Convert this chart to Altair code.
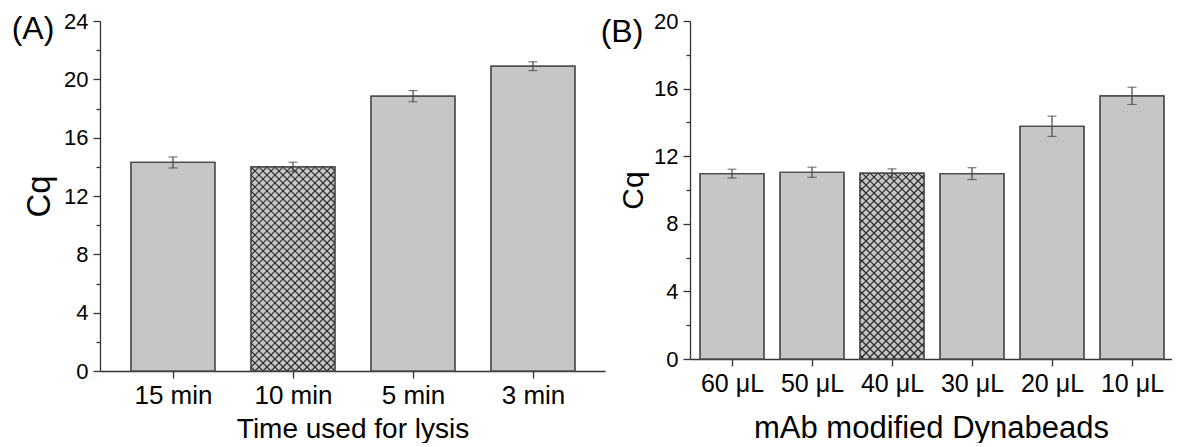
import altair as alt
import pandas as pd

# ---------------- data ----------------
lysis_labels = ["15 min", "10 min", "5 min", "3 min"]
lysis_cq = [14.3, 14.0, 18.85, 20.9]
lysis_err = [0.38, 0.32, 0.38, 0.30]
lysis_hatched = [False, True, False, False]

beads_labels = ["60 \u03bcL", "50 \u03bcL", "40 \u03bcL", "30 \u03bcL", "20 \u03bcL", "10 \u03bcL"]
beads_cq = [10.97, 11.05, 11.0, 10.97, 13.77, 15.57]
beads_err = [0.26, 0.30, 0.25, 0.35, 0.60, 0.51]
beads_hatched = [False, False, True, False, False, False]

FONT = "Liberation Sans"
BAR_FILL = "#c6c6c6"
EDGE = "#4a4a4a"
AXC = "#333333"


def hatch_rows(x0, x1, top, kx, ky, period=8.0):
    W = (x1 - x0) * kx
    H = top * ky
    segs = []
    c = -W
    while c < H:
        ua, ub = max(0.0, -c), min(W, H - c)
        if ub > ua:
            segs.append((ua, ua + c, ub, ub + c))
        c += period
    c = period / 2
    while c < W + H:
        ua, ub = max(0.0, c - H), min(W, c)
        if ub > ua:
            segs.append((ua, c - ua, ub, c - ub))
        c += period
    return [{"x": x0 + a / kx, "y": b / ky, "x2": x0 + d / kx, "y2": e / ky}
            for a, b, d, e in segs]


def panel(labels, vals, errs, hatched, xdom, ymax, width, height, barw,
          tag, tag_xy, xtitle, lab_fs, xt_fs, y_lab_fs, y_t_fs,
          y_ext, y_tp, x_tp, x_lp, anchor=None):
    n = len(labels)
    idx = list(range(1, n + 1))
    kx = width / (xdom[1] - xdom[0])
    ky = height / ymax

    bars = pd.DataFrame({
        "x": [i - barw / 2 for i in idx],
        "x2": [i + barw / 2 for i in idx],
        "y": [0.0] * n,
        "y2": vals,
    })
    err = pd.DataFrame({
        "x": idx,
        "y": [v - e for v, e in zip(vals, errs)],
        "y2": [v + e for v, e in zip(vals, errs)],
    })
    caps = pd.DataFrame({
        "x": idx + idx,
        "y": list(err["y"]) + list(err["y2"]),
    })
    hrows = []
    for i, v, h in zip(idx, vals, hatched):
        if h:
            hrows += hatch_rows(i - barw / 2, i + barw / 2, v, kx, ky)
    hatch = pd.DataFrame(hrows)

    arr = "[" + ",".join("'" + l + "'" for l in labels) + "]"
    xaxis = alt.Axis(
        values=idx, labelExpr=arr + "[round(datum.value) - 1]",
        title=xtitle, grid=False, labelAngle=0, labelFlush=False,
        labelOverlap=False, tickSize=7, tickWidth=1.3, tickColor=AXC,
        domainColor=AXC, domainWidth=1.3, labelFont=FONT, titleFont=FONT,
        labelFontSize=lab_fs, titleFontSize=xt_fs, labelColor="black",
        titleColor="black", titleFontWeight="normal", labelPadding=x_lp,
        titlePadding=x_tp, minExtent=37, maxExtent=37,
    )
    yaxis = alt.Axis(
        values=list(range(0, ymax + 1, 2)),
        labelExpr="datum.value % 4 === 0 ? datum.label : ''",
        tickSize={"condition": {"test": "datum.value % 4 === 0", "value": 7}, "value": 4},
        title="Cq", grid=False, labelFlush=False, labelOverlap=False,
        tickWidth=1.3, tickColor=AXC, domainColor=AXC, domainWidth=1.3,
        labelFont=FONT, titleFont=FONT, labelFontSize=y_lab_fs,
        titleFontSize=y_t_fs, labelColor="black", titleColor="black",
        titleFontWeight="normal", labelPadding=5, titlePadding=y_tp,
        minExtent=y_ext, maxExtent=y_ext,
    )
    X = alt.X("x:Q", scale=alt.Scale(domain=xdom, nice=False, zero=False), axis=xaxis)
    Y = alt.Y("y:Q", scale=alt.Scale(domain=[0, ymax], nice=False), axis=yaxis)

    l_bars = alt.Chart(bars).mark_rect(fill=BAR_FILL, stroke=EDGE, strokeWidth=1.2).encode(
        x=X, x2="x2:Q", y=Y, y2="y2:Q")
    l_hatch = alt.Chart(hatch).mark_rule(color="#2e2e2e", strokeWidth=1.15).encode(
        x=X, x2="x2:Q", y=Y, y2="y2:Q")
    l_edge = alt.Chart(bars).mark_rect(fillOpacity=0, stroke=EDGE, strokeWidth=1.2).encode(
        x=X, x2="x2:Q", y=Y, y2="y2:Q")
    l_err = alt.Chart(err).mark_rule(color="#444444", strokeWidth=1.2).encode(
        x=X, y=Y, y2="y2:Q")
    l_caps = alt.Chart(caps).mark_tick(orient="horizontal", size=9, thickness=1.2,
                                       color="#444444").encode(x=X, y=Y)
    l_tag = alt.Chart(pd.DataFrame({"t": [tag]})).mark_text(
        font=FONT, fontSize=32, align="center", baseline="middle", color="black"
    ).encode(text="t:N", x=alt.value(tag_xy[0]), y=alt.value(tag_xy[1]))

    layers = [l_bars, l_hatch, l_edge, l_err, l_caps, l_tag]
    if anchor is not None:
        # invisible point fixing the top-left corner of the drawing
        layers.append(alt.Chart(pd.DataFrame({"a": [0]})).mark_rule(
            strokeOpacity=0, strokeWidth=0.01).encode(
            x=alt.value(anchor[0]), x2=alt.value(anchor[0] + 1),
            y=alt.value(anchor[1]), y2=alt.value(anchor[1])))
    return alt.layer(*layers).properties(width=width, height=height)


left = panel(lysis_labels, lysis_cq, lysis_err, lysis_hatched,
             [0.392, 4.6], 24, 505, 350, 0.7, "(A)", (-67, 8),
             "Time used for lysis", 26, 28, 22, 33, 36, 8, 7, 4,
             anchor=(-92, -13))
right = panel(beads_labels, beads_cq, beads_err, beads_hatched,
              [0.475, 6.5], 20, 482, 338, 0.8, "(B)", (-68, 11),
              "mAb modified Dynabeads", 25, 31, 22, 30, 34, 8, 17, 5)

chart = alt.hconcat(left, right, spacing=85, bounds="flush").properties(
    padding={"left": 0, "top": 0, "right": 0, "bottom": 0},
).configure(background="white").configure_view(strokeWidth=0, strokeOpacity=0)

chart.save("out.html", embed_options={"renderer": "svg", "actions": False})
